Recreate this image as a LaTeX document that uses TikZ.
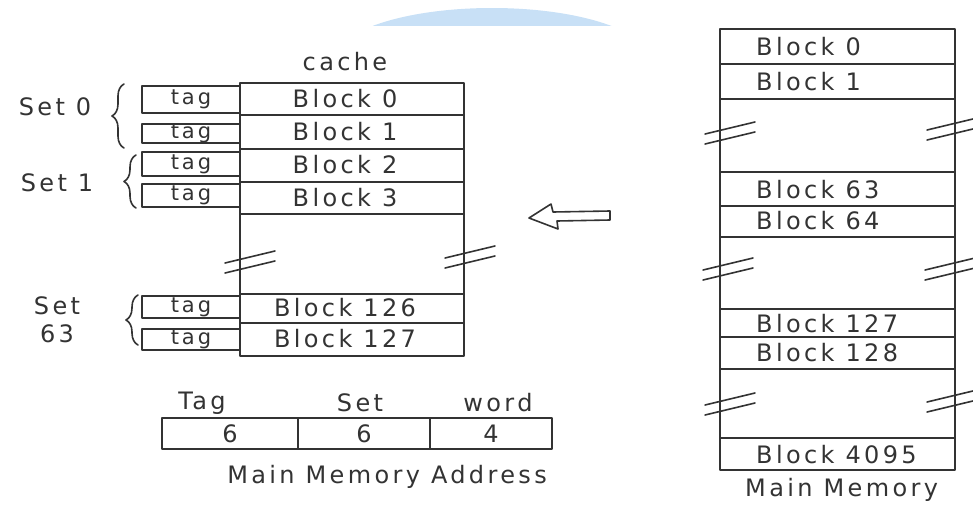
\documentclass[tikz,border=0pt]{standalone}
\usepackage{fontspec}
\setmainfont{DejaVu Sans}[LetterSpace=14]
\usepackage{tikz}
\usetikzlibrary{decorations.pathreplacing}
\definecolor{pencil}{gray}{0.2}
\definecolor{skyblob}{RGB}{200,224,246}
\tikzset{sk/.style={line width=1.6pt,color=pencil},
	txt/.style={font=\fontsize{24}{28}\selectfont,text=pencil,inner sep=0pt},
	tagbox/.style={sk,txt,font=\fontsize{21}{24}\selectfont,draw,minimum width=98pt},
	cell/.style={sk,txt,draw,minimum height=31pt},
	setbrace/.style={sk,decorate,decoration={brace,amplitude=12pt}}}

\begin{document}
\begin{tikzpicture}[line cap=round,line join=round,x=1pt,y=-1pt]
	\useasboundingbox (0,0) rectangle (973,506);
	% blue patch at the top
	\begin{scope}
		\clip (300,0) rectangle (700,25);
		\fill[skyblob] (492,60) ellipse (158pt and 52pt);
	\end{scope}
	% cache
	\node[txt] (cachelbl) at (345,62) {cache};
	\draw[sk] (240,83) rectangle (464,356);
	\foreach \y in {115,149,182,214,294,323} \draw[sk] (240,\y) -- (464,\y);
	\foreach \n/\y in {0/99,1/132,2/165,3/198,126/308,127/339}
		\node[txt] (cb\n) at (345,\y) {Block \n};
	\foreach \n/\y/\h in {0/99.5/27,1/133.5/19,2/164/24,3/195.5/23,126/307/22,127/339.5/21}
		\node[tagbox,minimum height=\h pt] (tg\n) at (191,\y) {tag};
	\draw[setbrace] (124,148) -- (124,84);
	\draw[setbrace] (136,208) -- (136,155);
	\draw[setbrace] (138,345) -- (138,295);
	\node[txt] (set0) at (55,107) {Set 0};
	\node[txt] (set1) at (57,183) {Set 1};
	\node[txt,align=center] (set63) at (57,320) {Set\\63};
	% breaks
	\foreach \cx/\cy in {250/261,470/256,730/132,952/128,728/268,950/268,730/403,952/400}{
		\draw[sk] (\cx-25,\cy+2) -- (\cx+25,\cy-10);
		\draw[sk] (\cx-25,\cy+12) -- (\cx+25,\cy);
	}
	% hollow arrow
	\draw[sk] (529,218) -- (551,204) -- (553,212) -- (610,211) -- (610,220) -- (557,221) -- (558,229) -- cycle;
	% main memory
	\draw[sk] (720,29) rectangle (955,470);
	\foreach \y in {64,99,172,206,237,309,337,369,438} \draw[sk] (720,\y) -- (955,\y);
	\foreach \n/\y in {0/47,1/82,63/190,64/221,127/324,128/353,4095/455}
		\node[txt,anchor=west] (mb\n) at (756,\y) {Block \n};
	\node[txt,anchor=west] (mmlbl) at (745,490) {Main Memory};
	% address
	\node[txt] (ltag) at (202,403) {Tag};
	\node[txt] (lset) at (360,403) {Set};
	\node[txt] (lword) at (498,403) {word};
	\node[cell,minimum width=136pt] (atag) at (230,433.5) {6};
	\node[cell,minimum width=132pt] (aset) at (364,433.5) {6};
	\node[cell,minimum width=122pt] (aword) at (491,433.5) {4};
	\node[txt] (addrlbl) at (387,477) {Main Memory Address};
\end{tikzpicture}
\end{document}
